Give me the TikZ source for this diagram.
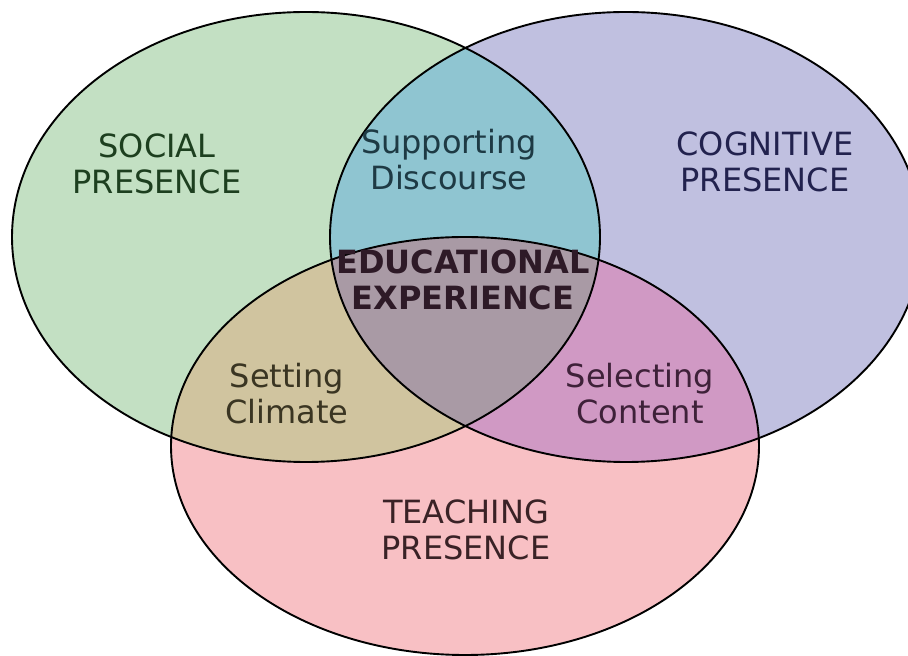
\documentclass[tikz,border=0pt]{standalone}
\usepackage{fontspec}
\setmainfont{DejaVu Sans}
\definecolor{socialgreen}{HTML}{C3E0C3}
\definecolor{cognitiveblue}{HTML}{C0C0E0}
\definecolor{teachingpink}{HTML}{F8C0C4}
\definecolor{discourseteal}{HTML}{8FC5D1}
\definecolor{climateolive}{HTML}{D0C49F}
\definecolor{contentmauve}{HTML}{D099C4}
\definecolor{experiencegrey}{HTML}{A99AA5}
\definecolor{socialink}{HTML}{1D3F1F}
\definecolor{cognitiveink}{HTML}{22224E}
\definecolor{teachingink}{HTML}{3A2226}
\definecolor{discourseink}{HTML}{1E3A44}
\definecolor{climateink}{HTML}{3A3522}
\definecolor{contentink}{HTML}{3E2139}
\definecolor{experienceink}{HTML}{2E1A27}
\newcommand{\socialset}{(306,419) ellipse [x radius=294, y radius=225]}
\newcommand{\cognitiveset}{(626,419) ellipse [x radius=296, y radius=225]}
\newcommand{\teachingset}{(465,210) ellipse [x radius=294, y radius=209]}

\begin{document}
\begin{tikzpicture}[
        x=1pt, y=1pt,
        label/.style={font=\fontsize{32}{36}\selectfont, align=center},
        core/.style={font=\fontsize{32}{36}\selectfont\bfseries, align=center},
        rim/.style={draw=black, line width=1.9pt}
      ]
        \clip (0,0) rectangle (908,656);
        % the three presences
        \fill[socialgreen] \socialset;
        \fill[cognitiveblue] \cognitiveset;
        \fill[teachingpink] \teachingset;
        % overlaps
        \begin{scope}
          \clip \socialset;
          \fill[discourseteal] \cognitiveset;
          \fill[climateolive] \teachingset;
        \end{scope}
        \begin{scope}
          \clip \cognitiveset;
          \fill[contentmauve] \teachingset;
          \clip \socialset;
          \fill[experiencegrey] \teachingset;
        \end{scope}
        \draw[rim] \socialset;
        \draw[rim] \cognitiveset;
        \draw[rim] \teachingset;

        \node[label, text=socialink] (social) at (157,492) {SOCIAL\\PRESENCE};
        \node[label, text=cognitiveink] (cognitive) at (765,494) {COGNITIVE\\PRESENCE};
        \node[label, text=teachingink] (teaching) at (466,126) {TEACHING\\PRESENCE};
        \node[label, text=discourseink] (discourse) at (449,496) {Supporting\\Discourse};
        \node[label, text=climateink] (climate) at (287,262) {Setting\\Climate};
        \node[label, text=contentink] (content) at (640,262) {Selecting\\Content};
        \node[core, text=experienceink] (experience) at (463,376) {EDUCATIONAL\\EXPERIENCE};
      \end{tikzpicture}
\end{document}
